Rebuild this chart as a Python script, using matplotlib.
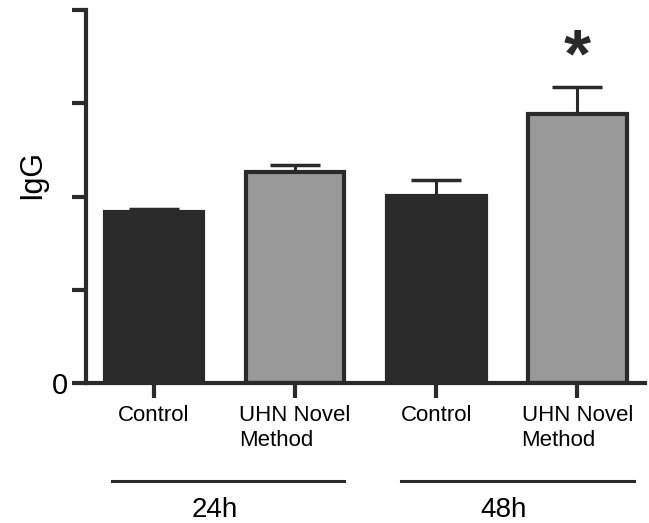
import matplotlib

matplotlib.use("Agg")
import matplotlib.pyplot as plt
import numpy as np

plt.rcParams["font.family"] = ["Liberation Sans", "DejaVu Sans"]

# bar data (arbitrary IgG units, axis 0..4)
labels = ["Control", "UHN Novel\nMethod", "Control", "UHN Novel\nMethod"]
means = [1.83, 2.26, 2.01, 2.89]
errs = [0.04, 0.08, 0.17, 0.28]
colors = ["#2a2a2a", "#999999", "#2a2a2a", "#999999"]
groups = ["24h", "48h"]
group_spans = [(-0.3, 1.35), (1.75, 3.4)]
group_text_x = [0.43, 2.48]
star_idx = 3

DARK = "#2a2a2a"

fig = plt.figure(figsize=(6.49, 5.23), dpi=100)
ax = fig.add_axes([86 / 649, 1 - 383 / 523, (645 - 86) / 649, (383 - 10) / 523])

x = np.arange(len(means))
ax.bar(x, means, width=0.70, color=colors, edgecolor=DARK, linewidth=3,
       zorder=2)
ax.errorbar(x, means, yerr=[np.zeros(len(errs)), errs], fmt="none",
            ecolor=DARK, elinewidth=2.2, capsize=18, capthick=2.5, zorder=1)
ax.text(x[star_idx], means[star_idx] + errs[star_idx] + 0.31, "*",
        ha="center", va="center", fontsize=50, fontweight="bold", color=DARK)

ax.set_xlim(-0.482, 3.48)
ax.set_ylim(0, 4)
ax.set_yticks([0, 1, 2, 3, 4])
ax.set_yticklabels(["0", "", "", "", ""], fontsize=21)
ax.set_xticks(x)
ax.set_xticklabels(labels, fontsize=16, multialignment="left",
                   linespacing=1.25)
ax.set_ylabel("IgG", fontsize=22)
ax.yaxis.set_label_coords(-0.07, 0.558)

for side in ("top", "right"):
    ax.spines[side].set_visible(False)
for side in ("left", "bottom"):
    ax.spines[side].set_linewidth(3)
    ax.spines[side].set_color(DARK)
ax.tick_params(axis="both", length=10, width=3, color=DARK)
ax.tick_params(axis="y", pad=3)
ax.tick_params(axis="x", length=11, pad=5)

# group bars and labels under the axis
trans = ax.get_xaxis_transform()
for name, (lo, hi), tx in zip(groups, group_spans, group_text_x):
    ax.plot([lo, hi], [-0.262, -0.262], color=DARK, lw=2.2,
            transform=trans, clip_on=False)
    ax.text(tx, -0.34, name, ha="center", va="center", fontsize=20,
            transform=trans)

fig.savefig("out.png", dpi=100)
